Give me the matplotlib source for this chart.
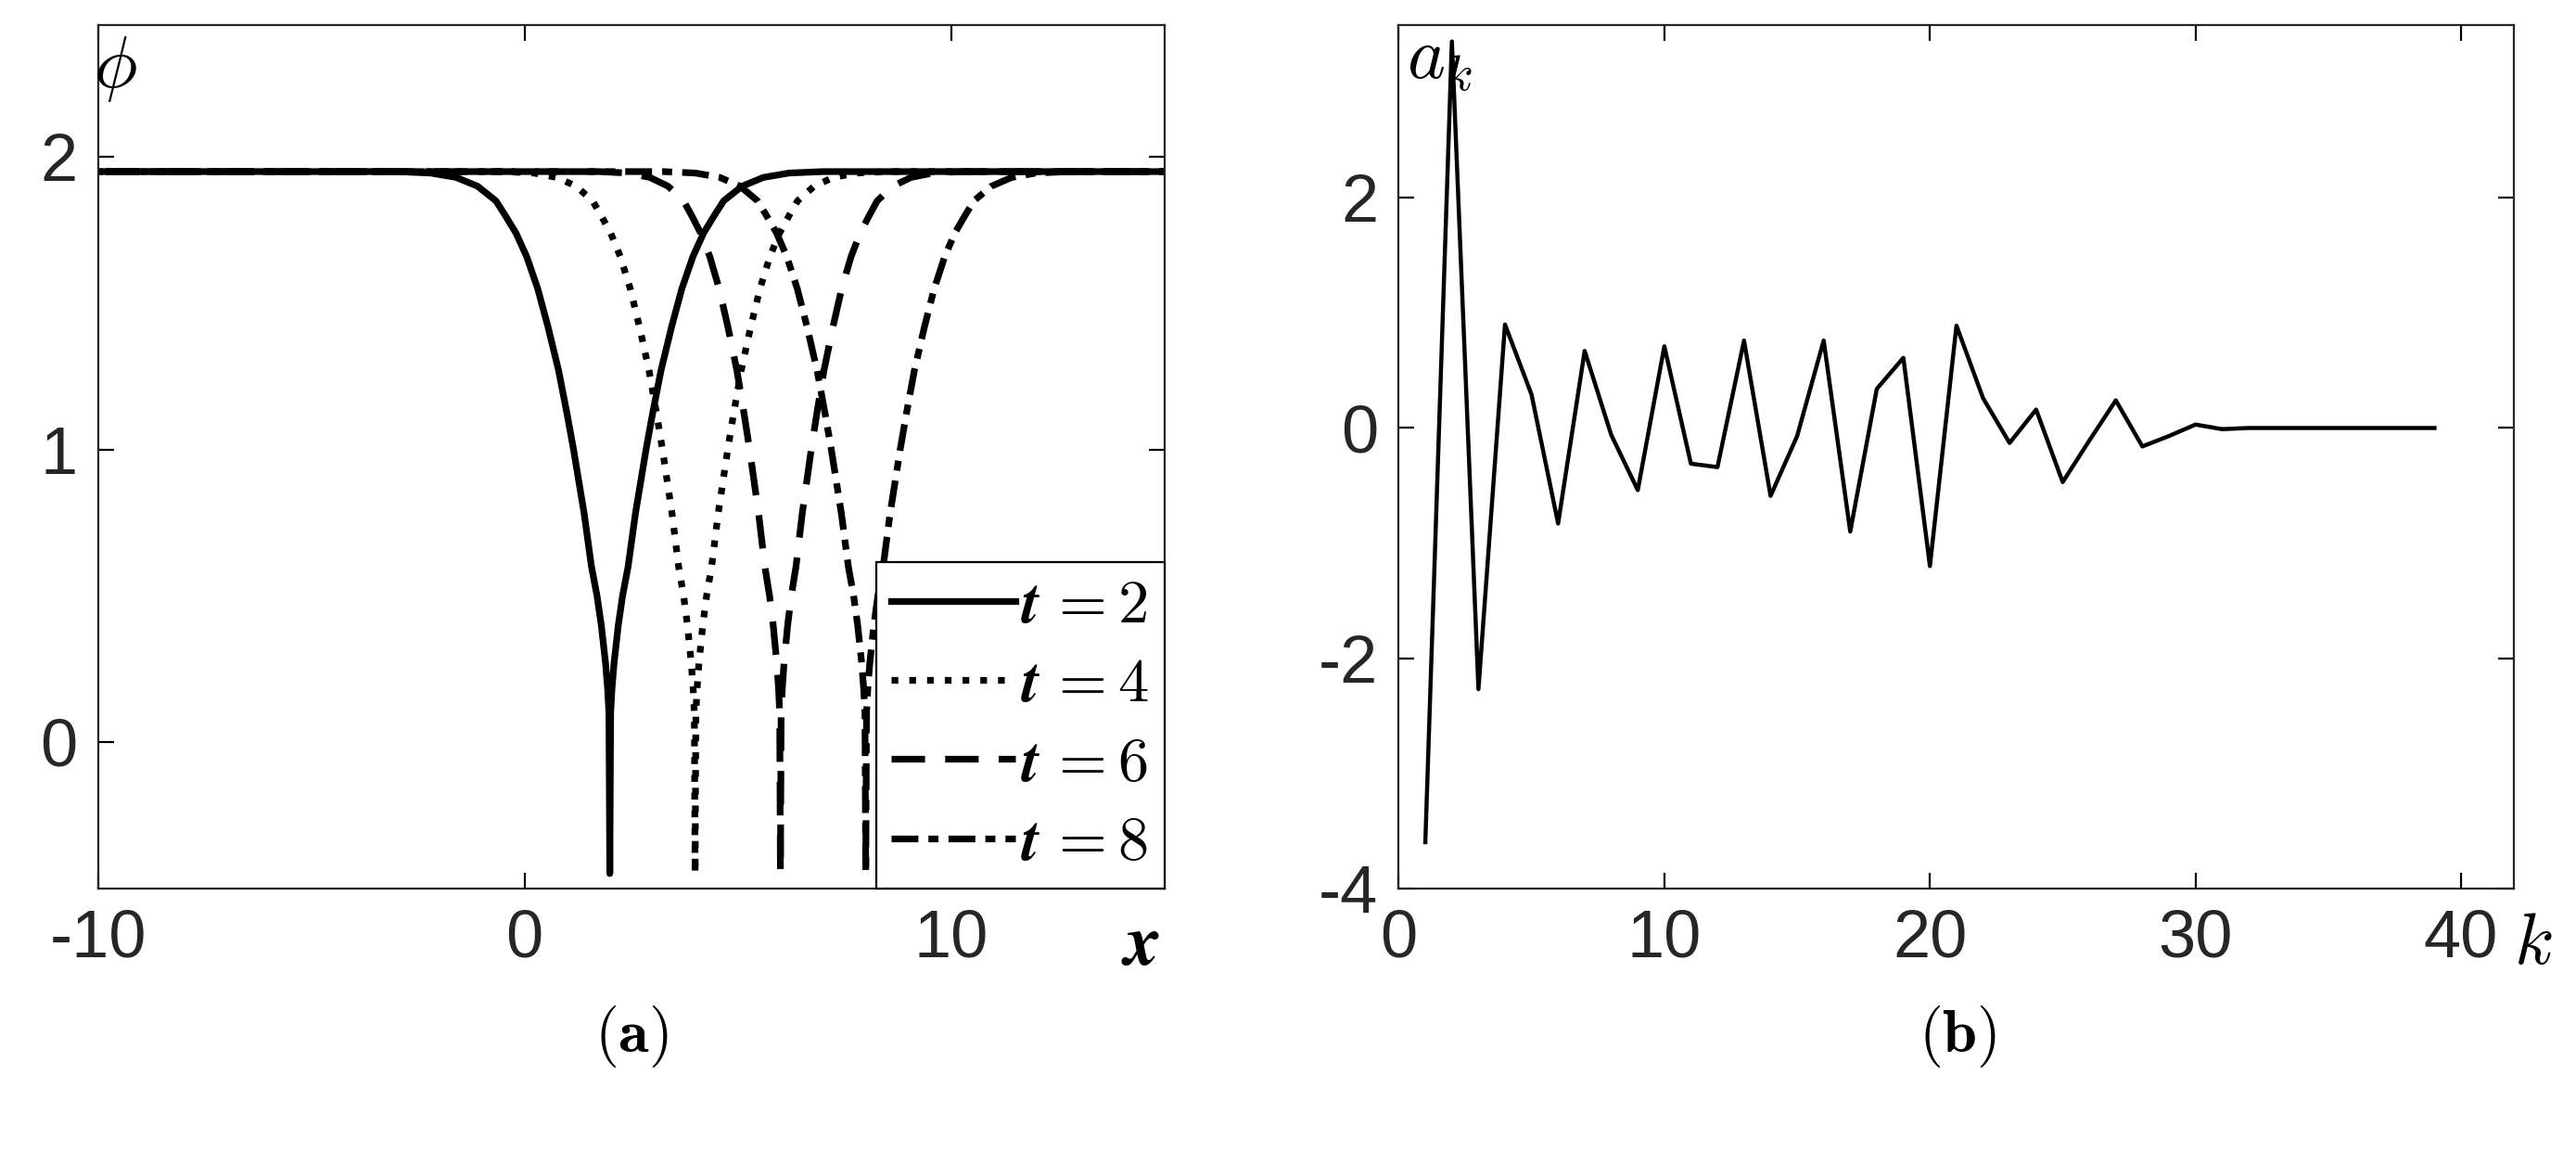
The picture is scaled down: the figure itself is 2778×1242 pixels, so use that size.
import matplotlib.pyplot as plt
import numpy as np

plt.rcParams['font.family'] = ['Liberation Sans', 'DejaVu Sans']
plt.rcParams['mathtext.fontset'] = 'cm'
plt.rcParams['axes.unicode_minus'] = False

# panel (a): dip profile (offset from centre -> phi)
offsets = [0, 0.02, 0.05, 0.1, 0.2, 0.3, 0.43, 0.6, 0.85, 1.0, 1.2, 1.45, 1.69,
           1.95, 2.2, 2.45, 2.67, 3.1, 3.6, 4.2, 5.0, 25.0]
phi_vals = [-0.45, 0.1, 0.18, 0.27, 0.4, 0.5, 0.6, 0.78, 1.0, 1.12, 1.27, 1.42,
            1.55, 1.66, 1.74, 1.8, 1.85, 1.9, 1.93, 1.945, 1.95, 1.95]
times = [2, 4, 6, 8]
widths = [1.0, 0.9, 0.85, 0.95]
styles = ['-', ':', (0, (5, 3)), (0, (4, 1.5, 1.5, 1.5))]
labels = [r'$\mathbfit{t}\,\mathbf{=2}$', r'$\mathbfit{t}\,\mathbf{=4}$',
          r'$\mathbfit{t}\,\mathbf{=6}$', r'$\mathbfit{t}\,\mathbf{=8}$']

# panel (b): coefficients a_k
k_vals = list(range(1, 40))
a_k = [-3.6, 3.36, -2.27, 0.9, 0.29, -0.83, 0.67, -0.06, -0.54, 0.71,
       -0.31, -0.34, 0.76, -0.59, -0.07, 0.76, -0.9, 0.34, 0.61, -1.2,
       0.89, 0.26, -0.13, 0.16, -0.47, -0.11, 0.24, -0.16, -0.07, 0.03,
       -0.01, 0.0, 0.0, 0.0, 0.0, 0.0, 0.0, 0.0, 0.0]

fig = plt.figure(figsize=(13.89, 6.21), dpi=200)
ax1 = fig.add_axes([0.038, 0.229, 0.414, 0.749])
ax2 = fig.add_axes([0.543, 0.229, 0.433, 0.749])

off = np.array(offsets)
ph = np.array(phi_vals)
for t, w, ls, lab in zip(times, widths, styles, labels):
    xs = np.concatenate([t - w * off[::-1], t + w * off[1:]])
    ys = np.concatenate([ph[::-1], ph[1:]])
    ax1.plot(xs, ys, color='black', lw=2.6, ls=ls, label=lab)

ax1.set_xlim(-10, 15)
ax1.set_ylim(-0.5, 2.45)
ax1.set_xticks([-10, 0, 10])
ax1.set_yticks([0, 1, 2])
leg = ax1.legend(loc='lower right', fontsize=24, handlelength=2.0, handletextpad=0.1,
                 borderpad=0.25, labelspacing=0.35, fancybox=False, edgecolor='black',
                 framealpha=1, borderaxespad=0)
leg.get_frame().set_linewidth(0.8)
ax1.text(-9.6, 2.42, r'$\phi$', fontsize=28, ha='center', va='top')
ax1.text(14.9, -0.58, r'$\mathbfit{x}$', fontsize=28, ha='right', va='top')
fig.text(0.245, 0.10, r'$(\mathbf{a})$', fontsize=24, ha='center', va='center')

ax2.plot(k_vals, a_k, color='black', lw=1.6)
ax2.set_xlim(0, 42)
ax2.set_ylim(-4, 3.5)
ax2.set_xticks([0, 10, 20, 30, 40])
ax2.set_yticks([-4, -2, 0, 2])
ax2.text(0.3, 3.2, r'$a_k$', fontsize=28, ha='left', va='center')
ax2.text(42.0, -4.2, r'$k$', fontsize=28, ha='left', va='top')
fig.text(0.76, 0.10, r'$(\mathbf{b})$', fontsize=24, ha='center', va='center')

for ax in (ax1, ax2):
    ax.tick_params(direction='in', length=6, width=0.8, labelsize=26,
                   labelcolor='#262626', top=True, right=True, pad=8)
    for s in ax.spines.values():
        s.set_linewidth(0.8)
        s.set_color('#262626')

fig.savefig('out.png')
